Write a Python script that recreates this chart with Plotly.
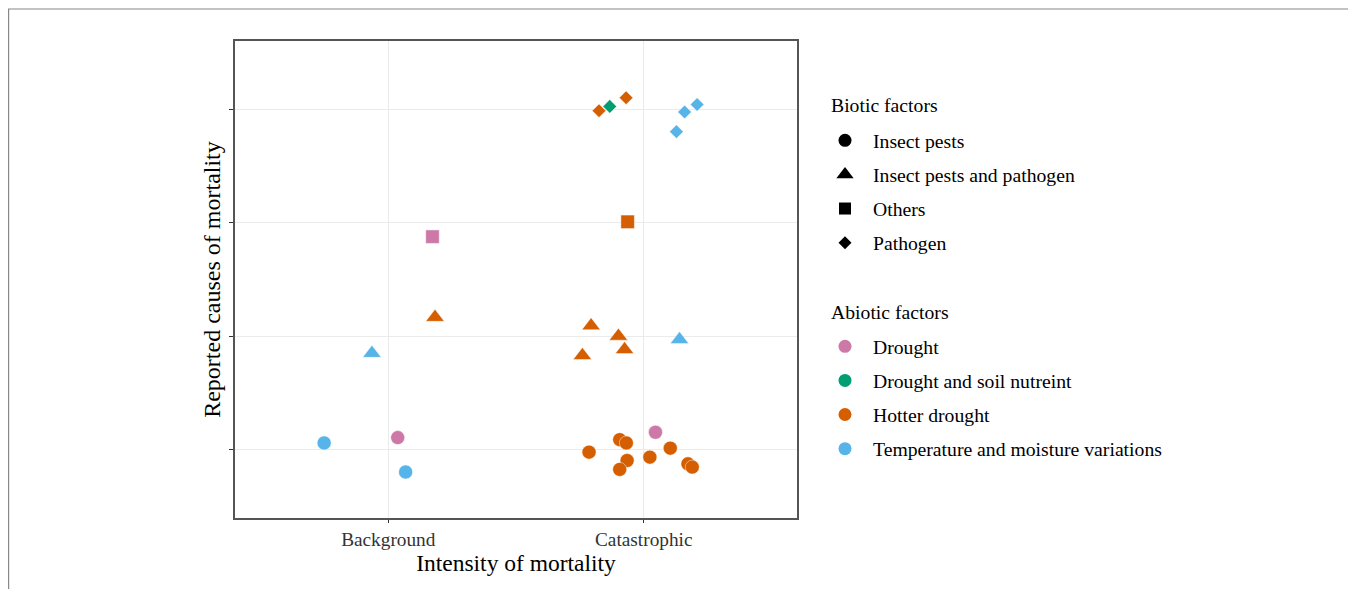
import plotly.graph_objects as go

# ---- categories ----
intensity_levels = ["Background", "Catastrophic"]
biotic_levels = ["Insect pests", "Insect pests and pathogen", "Others", "Pathogen"]
abiotic_levels = ["Drought", "Drought and soil nutreint", "Hotter drought",
                  "Temperature and moisture variations"]

# ---- observations (one entry per study) ----
intensity = ["Background"] * 6 + ["Catastrophic"] * 22
biotic = (["Insect pests", "Insect pests", "Insect pests", "Insect pests and pathogen",
           "Insect pests and pathogen", "Others"]
          + ["Pathogen"] * 6 + ["Others"] + ["Insect pests and pathogen"] * 5
          + ["Insect pests"] * 10)
abiotic = (["Temperature and moisture variations", "Drought",
            "Temperature and moisture variations", "Temperature and moisture variations",
            "Hotter drought", "Drought"]
           + ["Hotter drought", "Drought and soil nutreint", "Hotter drought",
              "Temperature and moisture variations", "Temperature and moisture variations",
              "Temperature and moisture variations"]
           + ["Hotter drought"]
           + ["Hotter drought"] * 4 + ["Temperature and moisture variations"]
           + ["Drought"] + ["Hotter drought"] * 9)
# jitter
jitter_x = [-0.251, 0.037, 0.068, -0.064, 0.183, 0.173,
            -0.175, -0.133, -0.069, 0.128, 0.160, 0.209,
            -0.063,
            -0.206, -0.099, -0.240, -0.075, 0.140,
            0.046, -0.214, -0.094, -0.068, -0.065, -0.094, 0.024, 0.104, 0.173, 0.190]
jitter_y = [0.061, 0.108, -0.195, -0.150, 0.167, -0.123,
            -0.014, 0.024, 0.100, -0.198, -0.025, 0.041,
            0.008,
            0.093, 0.001, -0.169, -0.117, -0.029,
            0.155, -0.020, 0.090, 0.061, -0.094, -0.172, -0.064, 0.015, -0.123, -0.152]

colors = {"Drought": "#CC79A7", "Drought and soil nutreint": "#009E73",
          "Hotter drought": "#D55E00", "Temperature and moisture variations": "#56B4E9"}
symbols = {"Insect pests": "circle", "Insect pests and pathogen": "triangle-up",
           "Others": "square", "Pathogen": "diamond"}
sizes = {"Insect pests": 14, "Insect pests and pathogen": 16, "Others": 13.5, "Pathogen": 10.5}
legend_sizes = {"Insect pests": 13, "Insect pests and pathogen": 15, "Others": 12, "Pathogen": 10}

FONT = "Liberation Serif"
fig = go.Figure()

for b in biotic_levels:
    for a in abiotic_levels:
        idx = [i for i in range(len(intensity)) if biotic[i] == b and abiotic[i] == a]
        if not idx:
            continue
        xs = [intensity_levels.index(intensity[i]) + 1 + jitter_x[i] for i in idx]
        ys = [biotic_levels.index(biotic[i]) + 1 + jitter_y[i] for i in idx]
        fig.add_trace(go.Scatter(
            x=xs, y=ys, mode="markers", showlegend=False, hoverinfo="skip",
            marker=dict(symbol=symbols[b], size=sizes[b], color=colors[a],
                        line=dict(width=1, color="rgba(255,255,255,0.45)"))))

# legends
for b in biotic_levels:
    fig.add_trace(go.Scatter(
        x=[None], y=[None], mode="markers", name=b, legend="legend", legendgroup=b,
        marker=dict(symbol=symbols[b], size=legend_sizes[b], color="black")))
for a in abiotic_levels:
    fig.add_trace(go.Scatter(
        x=[None], y=[None], mode="markers", name=a, legend="legend2", legendgroup=a,
        marker=dict(symbol="circle", size=13, color=colors[a])))

# page is rendered with an 8px body offset
L, R, T, B = 227, 789, 33, 510
W, H = 1356, 589
pw, ph = R - L, B - T


def px_x(p):
    return (p - L) / pw


def px_y(p):
    return (B - p) / ph


legend_common = dict(font=dict(family=FONT, size=19.7, color="black"),
                     itemwidth=46, tracegroupgap=5.5, traceorder="grouped",
                     bgcolor="rgba(0,0,0,0)", xanchor="left", yanchor="top",
                     itemclick=False, itemdoubleclick=False)

fig.update_layout(
    width=W, height=H,
    margin=dict(l=L, r=W - R, t=T, b=H - B),
    paper_bgcolor="white", plot_bgcolor="white",
    font=dict(family=FONT, color="black"),
    xaxis=dict(range=[0.4, 2.6], tickvals=[1, 2], ticktext=intensity_levels,
               showgrid=True, gridcolor="#EBEBEB", gridwidth=1.2, zeroline=False,
               ticks="outside", ticklen=3, tickcolor="#333", tickwidth=1.2,
               tickfont=dict(family=FONT, size=19.3, color="#333"),
               showline=True, linecolor="#555", linewidth=1.5, mirror=True,
               title=dict(text="Intensity of mortality", standoff=2,
                          font=dict(family=FONT, size=23.5, color="black"))),
    yaxis=dict(range=[0.4, 4.6], tickvals=[1, 2, 3, 4], showticklabels=False,
               showgrid=True, gridcolor="#EBEBEB", gridwidth=1.2, zeroline=False,
               ticks="outside", ticklen=4, tickcolor="#333", tickwidth=1.2,
               showline=True, linecolor="#555", linewidth=1.5, mirror=True,
               title=dict(text="Reported causes of mortality", standoff=2,
                          font=dict(family=FONT, size=24, color="black"))),
    legend=dict(x=px_x(817 - 8), y=px_y(141 - 8 - 20), **legend_common),
    legend2=dict(x=px_x(817 - 8), y=px_y(347 - 8 - 20), **legend_common),
    annotations=[
        dict(text="Biotic factors", xref="paper", yref="paper",
             x=px_x(829 - 8), y=px_y(105 - 8), xanchor="left", yanchor="middle",
             showarrow=False, font=dict(family=FONT, size=19.7, color="black")),
        dict(text="Abiotic factors", xref="paper", yref="paper",
             x=px_x(829 - 8), y=px_y(312 - 8), xanchor="left", yanchor="middle",
             showarrow=False, font=dict(family=FONT, size=19.7, color="black")),
    ],
    shapes=[dict(type="rect", xref="paper", yref="paper",
                 x0=px_x(0.6), x1=px_x(1345), y0=px_y(640), y1=px_y(1),
                 line=dict(color="#888", width=1.2), layer="below")],
    showlegend=True,
)

fig.write_html("out.html")
